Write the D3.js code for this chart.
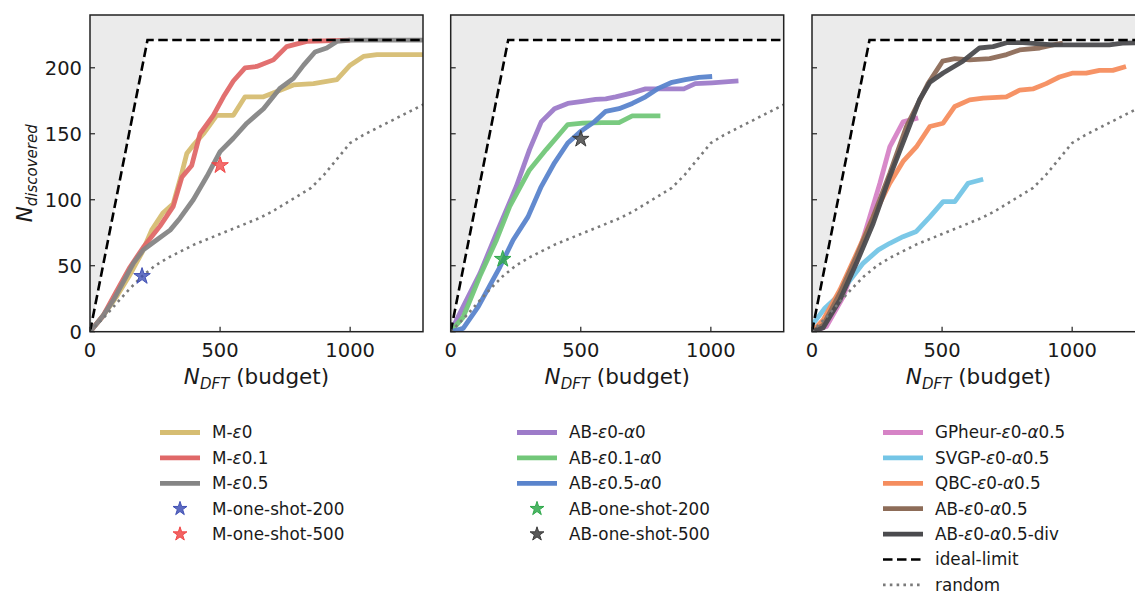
<!DOCTYPE html>
<html><head><meta charset="utf-8">
<script src="https://cdn.jsdelivr.net/npm/d3@7"></script>
<style>body{margin:0;background:#fff}svg{display:block}text{font-family:"DejaVu Sans",sans-serif;fill:#1a1a1a}</style>
</head><body><svg id="c" width="1135" height="596"></svg>
<script>
// ---------- data ----------
const xTicks = [0, 500, 1000];
const yTicks = [0, 50, 100, 150, 200];
const idealX = [0, 221, 1300];
const idealY = [0, 221, 221];
const randomX = [0,50,100,150,200,250,300,350,400,450,500,550,600,650,700,750,800,850,900,950,1000,1050,1100,1150,1200,1250,1300];
const randomY = [0,10,21,32,42,50,56,61,66,70,74,78,82,86,91,97,103,109,119,131,143,149,154,159,164,169,174];

const mE0X = [0,50,100,150,200,237,280,320,350,372,400,436,487,551,596,667,731,782,859,949,1000,1051,1103,1280];
const mE0Y = [0,12,26,42,60,77,90,97,118,135,142,150,164,164,178,178,183,187,188,191,202,208.6,210,210];
const mE01X = [0,50,100,154,205,269,320,353,391,423,474,513,551,596,641,705,756,833,1000];
const mE01Y = [0,12,30,49,64,80,95,117,126,150,164,178,190,200,201,206,216,220,221];
const mE05X = [0,50,90,167,205,256,308,346,397,449,500,551,603,667,731,782,821,865,910,949,1000,1280];
const mE05Y = [0,12,24,52,62,69.5,77,86,100,117.6,136.5,146.6,158,169,184.6,192,202,212,215,220,221,221];

const abE0X = [0,48,112,176,252,303,348,399,450,507,557,596,634,698,749,787,896,940,1004,1106];
const abE0Y = [0,19,44,74.6,110,138,159,169,173,174.5,176,176.5,178,181,184,184,184,188,188.6,190];
const abE01X = [0,48,112,176,227,303,367,450,507,583,647,698,806];
const abE01Y = [0,11,42,69.5,95,122.6,138,157,158,158.5,158.5,163.6,163.6];
const abE05X = [0,48,106,189,240,297,348,399,450,501,552,596,647,698,749,800,851,902,954,1005];
const abE05Y = [0,2.5,19,49,69.5,87,110,128,143,152,159,167,169,173,178,184.6,189,191,192.7,193.4];

const gpX = [0,56,120,171,222,261,299,350,408];
const gpY = [0,4,26.5,54,87,112.5,140,159,162];
const svgpX = [0,50,100,146,197,255,299,350,401,453,504,549,600,658];
const svgpY = [5,18,27,39,52,62,67,72,76,87,98.6,98.6,112.5,115.5];
const qbcX = [0,43,107,171,235,299,350,401,453,504,549,606,658,747,798,849,900,951,1003,1054,1105,1156,1207];
const qbcY = [0,9,31.6,59,87,112.5,129,140,155.5,158,170.7,175.7,177,178,183,184,188,193,196,196,198,198,201];
const abA05X = [0,43,107,171,235,299,363,446,502,549,606,683,748,798,875,926,964];
const abA05Y = [0,5,29,57,87,120,155.5,188,205,207,206,207,210,213.5,215,217.4,218.7];
const divX = [0,43,107,171,235,299,363,414,453,504,580,644,696,748,811,926,1143,1194,1300];
const divY = [0,3,24,52,82,117.6,150,176,189,196,205,215,216,219,219,217.4,217.4,218.7,219];

const starM200 = [200, 42], starM500 = [500, 126];
const starAB200 = [200, 55], starAB500 = [500, 146];

// ---------- build ----------
const zip = (xs, ys) => xs.map((x, i) => [x, ys[i]]);
const panels = [
  { lines: [
      { name: ["M-", "ε", "0"], color: "#d6bd72", pts: zip(mE0X, mE0Y) },
      { name: ["M-", "ε", "0.1"], color: "#e06868", pts: zip(mE01X, mE01Y) },
      { name: ["M-", "ε", "0.5"], color: "#858585", pts: zip(mE05X, mE05Y) } ],
    stars: [
      { name: ["M-one-shot-200"], fill: "#4050b5", pt: starM200 },
      { name: ["M-one-shot-500"], fill: "#f04848", pt: starM500 } ],
    extras: false, legendX: 160 },
  { lines: [
      { name: ["AB-", "ε", "0-", "α", "0"], color: "#9d7bc9", pts: zip(abE0X, abE0Y) },
      { name: ["AB-", "ε", "0.1-", "α", "0"], color: "#72c779", pts: zip(abE01X, abE01Y) },
      { name: ["AB-", "ε", "0.5-", "α", "0"], color: "#5a84cc", pts: zip(abE05X, abE05Y) } ],
    stars: [
      { name: ["AB-one-shot-200"], fill: "#2ea84a", pt: starAB200 },
      { name: ["AB-one-shot-500"], fill: "#3c3c3c", pt: starAB500 } ],
    extras: false, legendX: 517 },
  { lines: [
      { name: ["GPheur-", "ε", "0-", "α", "0.5"], color: "#d683c6", pts: zip(gpX, gpY) },
      { name: ["SVGP-", "ε", "0-", "α", "0.5"], color: "#74c5e6", pts: zip(svgpX, svgpY) },
      { name: ["QBC-", "ε", "0-", "α", "0.5"], color: "#f58d5e", pts: zip(qbcX, qbcY) },
      { name: ["AB-", "ε", "0-", "α", "0.5"], color: "#8d6c58", pts: zip(abA05X, abA05Y) },
      { name: ["AB-", "ε", "0-", "α", "0.5-div"], color: "#4b4b4e", pts: zip(divX, divY) } ],
    stars: [], extras: true, legendX: 883 }
];

const svg = d3.select("#c");
const lefts = [90, 450.7, 812];
const W = 333, plotTop = 15, H = 316.7;
const x = d3.scaleLinear().domain([0, 1280]).range([0, W]);
const y = d3.scaleLinear().domain([0, 240]).range([H, 0]);
const line = d3.line().x(d => x(d[0])).y(d => y(d[1]));
const ideal = zip(idealX, idealY), random = zip(randomX, randomY);

panels.forEach((p, i) => {
  const g = svg.append("g").attr("transform", `translate(${lefts[i]},${plotTop})`);
  const cid = "clip" + i;
  g.append("clipPath").attr("id", cid).append("rect").attr("width", W).attr("height", H);
  const pg = g.append("g").attr("clip-path", `url(#${cid})`);
  const shade = [[0, 0], ...ideal.slice(1), [1300, 240], [0, 240]];
  pg.append("path").attr("d", line(shade) + "Z").attr("fill", "#ebebeb");
  p.lines.forEach(l => {
    pg.append("path").attr("d", line(l.pts)).attr("fill", "none")
      .attr("stroke", l.color).attr("stroke-width", 4.8).attr("stroke-linejoin", "round")
      .attr("stroke-linecap", "butt").attr("opacity", 0.95);
  });
  pg.append("path").attr("d", line(ideal)).attr("fill", "none").attr("stroke", "#000")
    .attr("stroke-width", 2.6).attr("stroke-dasharray", "9.5,4.5");
  pg.append("path").attr("d", line(random)).attr("fill", "none").attr("stroke", "#7a7a7a")
    .attr("stroke-width", 2.6).attr("stroke-dasharray", "2.6,4.2");
  p.stars.forEach(s => {
    pg.append("path").attr("d", d3.symbol(d3.symbolStar, 85)())
      .attr("transform", `translate(${x(s.pt[0])},${y(s.pt[1])})`)
      .attr("fill", s.fill).attr("fill-opacity", 0.8).attr("stroke", s.fill).attr("stroke-width", 1);
  });
  yTicks.forEach(t => {
    g.append("line").attr("x1", 0).attr("x2", 5).attr("y1", y(t)).attr("y2", y(t)).attr("stroke", "#222").attr("stroke-width", 1.2);
    if (i === 0) g.append("text").attr("x", -8).attr("y", y(t)).attr("dy", "0.36em")
      .attr("text-anchor", "end").attr("font-size", 19.5).text(t);
  });
  xTicks.forEach(t => {
    g.append("line").attr("x1", x(t)).attr("x2", x(t)).attr("y1", H).attr("y2", H - 5).attr("stroke", "#222").attr("stroke-width", 1.2);
    g.append("text").attr("x", x(t)).attr("y", H + 25).attr("text-anchor", "middle").attr("font-size", 19.5).text(t);
  });
  g.append("rect").attr("width", W).attr("height", H).attr("fill", "none").attr("stroke", "#222").attr("stroke-width", 1.5);
  const xl = g.append("text").attr("x", W / 2).attr("y", H + 52).attr("text-anchor", "middle").attr("font-size", 21.5);
  xl.append("tspan").attr("font-style", "italic").text("N");
  xl.append("tspan").attr("font-style", "italic").attr("font-size", 15).attr("dy", 5).text("DFT");
  xl.append("tspan").attr("dy", -5).text(" (budget)");
  if (i === 0) {
    const yl = g.append("text").attr("transform", `translate(-58,${H / 2}) rotate(-90)`)
      .attr("text-anchor", "middle").attr("font-size", 21.5);
    yl.append("tspan").attr("font-style", "italic").text("N");
    yl.append("tspan").attr("font-style", "italic").attr("font-size", 15).attr("dy", 5).text("discovered");
  }
  const items = [];
  p.lines.forEach(l => items.push({ type: "line", color: l.color, name: l.name }));
  p.stars.forEach(s => items.push({ type: "star", color: s.fill, name: s.name }));
  if (p.extras) {
    items.push({ type: "dash", name: ["ideal-limit"] });
    items.push({ type: "dot", name: ["random"] });
  }
  const lx = p.legendX;
  items.forEach((it, k) => {
    const yy = 432.5 + k * 25.4;
    if (it.type === "line") {
      svg.append("line").attr("x1", lx).attr("x2", lx + 40).attr("y1", yy).attr("y2", yy)
        .attr("stroke", it.color).attr("stroke-width", 4.8);
    } else if (it.type === "star") {
      svg.append("path").attr("d", d3.symbol(d3.symbolStar, 60)()).attr("transform", `translate(${lx + 20},${yy})`)
        .attr("fill", it.color).attr("fill-opacity", 0.85).attr("stroke", it.color);
    } else if (it.type === "dash") {
      svg.append("line").attr("x1", lx).attr("x2", lx + 40).attr("y1", yy).attr("y2", yy)
        .attr("stroke", "#000").attr("stroke-width", 2.6).attr("stroke-dasharray", "9.5,4.5");
    } else {
      svg.append("line").attr("x1", lx).attr("x2", lx + 40).attr("y1", yy).attr("y2", yy)
        .attr("stroke", "#7a7a7a").attr("stroke-width", 2.6).attr("stroke-dasharray", "2.6,4.2");
    }
    const t = svg.append("text").attr("x", lx + 52).attr("y", yy).attr("dy", "0.35em").attr("font-size", 16.8);
    it.name.forEach(s => {
      const ts = t.append("tspan").text(s);
      if (s === "ε" || s === "α") ts.attr("font-style", "italic");
    });
  });
});
</script></body></html>
